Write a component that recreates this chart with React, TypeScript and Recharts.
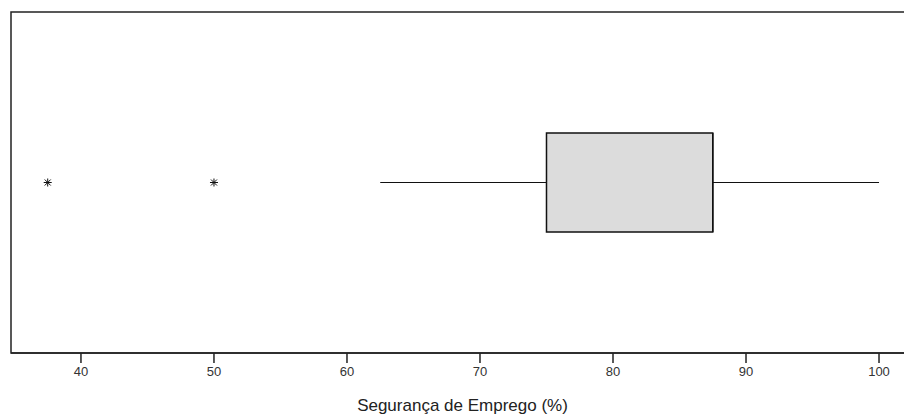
import React from 'react';
import {
  ScatterChart,
  Scatter,
  XAxis,
  YAxis,
  ReferenceArea,
  ReferenceLine
} from 'recharts';

// five-number summary (median sits on the box edge)
const statNames = ['lowerWhisker', 'q1', 'median', 'q3', 'upperWhisker'];
const statValues = [62.5, 75, 87.5, 87.5, 100];
const outlierValues = [37.5, 50];
const xTicks = [40, 50, 60, 70, 80, 90, 100];
const axisTitle = 'Segurança de Emprego (%)';

const stat = (name: string) => statValues[statNames.indexOf(name)];

// plot runs a little past the right edge of the picture, as in the source
const X_DOMAIN: [number, number] = [34.74, 102.63];
const ROW = 1;
const BOX_HALF = 0.29;

const outlierData = outlierValues.map((v) => ({ x: v, y: ROW }));

// R-style pch=8 asterisk
const Asterisk = (props: any) => {
  const { cx, cy } = props;
  const r = 4;
  const d = 3;
  return (
    <g stroke="#111" strokeWidth={1}>
      <line x1={cx - r} y1={cy} x2={cx + r} y2={cy} />
      <line x1={cx} y1={cy - r} x2={cx} y2={cy + r} />
      <line x1={cx - d} y1={cy - d} x2={cx + d} y2={cy + d} />
      <line x1={cx - d} y1={cy + d} x2={cx + d} y2={cy - d} />
    </g>
  );
};

const App: React.FC = () => {
  return (
    <div
      style={{
        position: 'absolute',
        left: 0,
        top: 0,
        width: 904,
        height: 417,
        overflow: 'hidden',
        background: '#fff'
      }}
    >
      <ScatterChart
        width={916}
        height={417}
        margin={{ top: 12, right: 2, bottom: 0, left: 11 }}
      >
        <XAxis
          type="number"
          dataKey="x"
          domain={X_DOMAIN}
          ticks={xTicks}
          allowDataOverflow
          height={64}
          stroke="#222"
          strokeWidth={1.5}
          tickSize={10}
          tickMargin={4}
          tick={{ fill: '#333', fontSize: 13, fontFamily: 'Liberation Sans, Arial, sans-serif' }}
          label={{
            value: axisTitle,
            position: 'insideBottom',
            offset: 6,
            fill: '#222',
            fontSize: 17,
            fontFamily: 'Liberation Sans, Arial, sans-serif'
          }}
        />
        <YAxis type="number" dataKey="y" domain={[0, 2]} hide />

        {/* plot frame */}
        <ReferenceArea
          x1={X_DOMAIN[0]}
          x2={X_DOMAIN[1]}
          y1={0}
          y2={2}
          fill="none"
          stroke="#222"
          strokeWidth={1.5}
          fillOpacity={0}
        />

        {/* whiskers */}
        <ReferenceLine
          segment={[{ x: stat('lowerWhisker'), y: ROW }, { x: stat('q1'), y: ROW }]}
          stroke="#111"
          strokeWidth={1.2}
        />
        <ReferenceLine
          segment={[{ x: stat('q3'), y: ROW }, { x: stat('upperWhisker'), y: ROW }]}
          stroke="#111"
          strokeWidth={1.2}
        />

        {/* box */}
        <ReferenceArea
          x1={stat('q1')}
          x2={stat('q3')}
          y1={ROW - BOX_HALF}
          y2={ROW + BOX_HALF}
          fill="#dcdcdc"
          fillOpacity={1}
          stroke="#111"
          strokeWidth={1.5}
        />
        <ReferenceLine
          segment={[{ x: stat('median'), y: ROW - BOX_HALF }, { x: stat('median'), y: ROW + BOX_HALF }]}
          stroke="#111"
          strokeWidth={1.5}
        />

        <Scatter data={outlierData} shape={<Asterisk />} isAnimationActive={false} />
      </ScatterChart>
    </div>
  );
};

export default App;
